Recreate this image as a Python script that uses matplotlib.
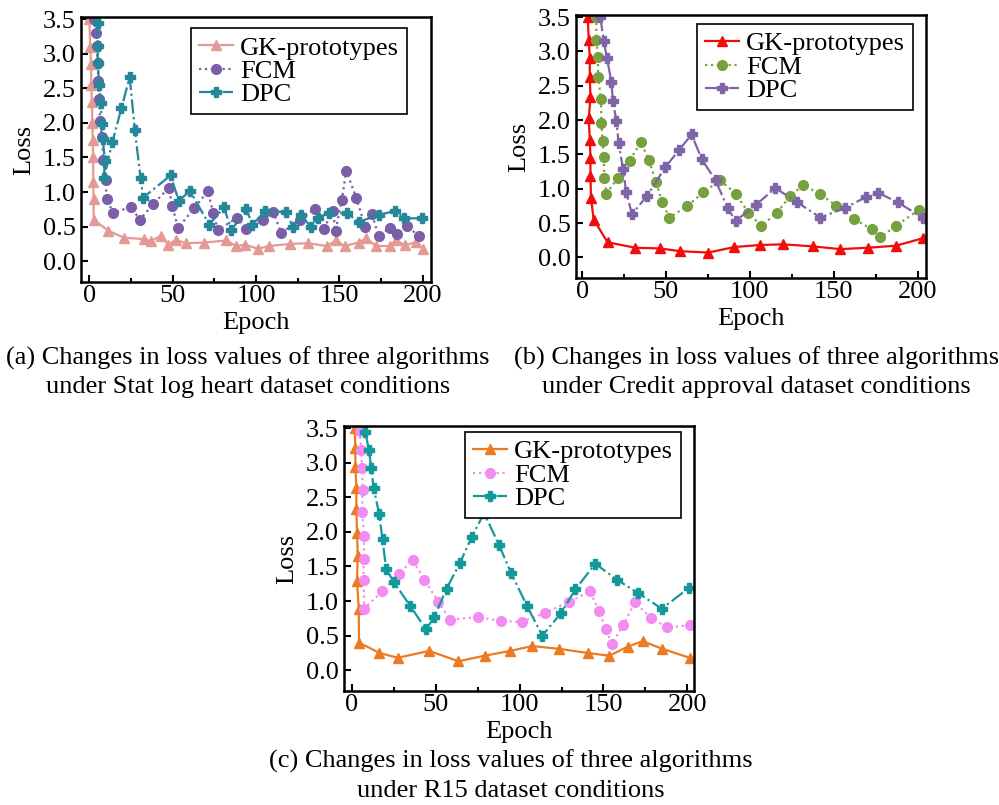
import matplotlib
matplotlib.use("Agg")
import matplotlib.pyplot as plt
from matplotlib.ticker import MultipleLocator

plt.rcParams['font.family'] = ['Liberation Serif', 'DejaVu Serif']
plt.rcParams['font.size'] = 19

# (a) Stat log heart
a_gk_x = [0, 0.5, 1, 1.2, 1.5, 1.8, 2, 2.2, 2.4, 2.5, 2.6, 11.4, 20.8, 32.7, 37, 43, 47.3, 52, 57.9, 68.7, 82.2, 88,
          93.6, 101, 107.8, 120.2, 131.1, 142.5, 148, 153.1, 161.5, 166, 172, 180.6, 184, 189.6, 196, 200]
a_gk_y = [3.5, 3.1, 2.85, 2.55, 2.3, 2.0, 1.75, 1.5, 1.15, 0.9, 0.6, 0.44, 0.34, 0.32, 0.29, 0.37, 0.24, 0.31, 0.26,
          0.27, 0.30, 0.22, 0.24, 0.18, 0.22, 0.25, 0.26, 0.22, 0.30, 0.22, 0.27, 0.33, 0.22, 0.22, 0.30, 0.23, 0.28, 0.18]
a_fcm_x = [3, 3.8, 4.4, 5, 5.4, 6, 6.4, 7.4, 8.4, 9.8, 10.4, 14.4, 24.7, 30.3, 38.3, 47.7, 49.7, 53.3, 62.9, 71.1, 74.3,
           77.2, 88.6, 94.2, 104.2, 110.2, 115.2, 126.1, 135.5, 140.5, 146.1, 147.7, 151.5, 154.1, 160.1, 165.5, 169.5,
           173.5, 180.4, 184.6, 190.4, 198]
a_fcm_y = [3.5, 3.3, 3.11, 2.87, 2.6, 2.34, 2.02, 1.8, 1.47, 1.18, 0.9, 0.69, 0.79, 0.60, 0.83, 1.06, 0.80, 0.48, 0.77,
           1.01, 0.70, 0.45, 0.63, 0.46, 0.60, 0.71, 0.41, 0.60, 0.76, 0.46, 0.73, 0.44, 0.89, 1.31, 0.92, 0.49, 0.68,
           0.37, 0.48, 0.40, 0.51, 0.36]
a_dpc_x = [5, 5, 5, 6, 7, 7.4, 8, 9.4, 8.6, 13.8, 19.2, 24.2, 27.3, 30.7, 32.3, 48.7, 53.7, 60.3, 71.9, 80.8, 85.2,
           94.2, 97.8, 105.6, 118, 122, 127.1, 132.7, 137.1, 143.7, 154.5, 161.7, 173.7, 183.6, 189, 199.4]
a_dpc_y = [3.45, 3.11, 2.86, 2.54, 2.29, 1.99, 1.77, 1.45, 1.2, 1.72, 2.21, 2.66, 1.89, 1.21, 0.92, 1.24, 0.87, 1.02,
           0.53, 0.78, 0.45, 0.75, 0.53, 0.73, 0.71, 0.50, 0.67, 0.50, 0.63, 0.70, 0.69, 0.57, 0.67, 0.73, 0.62, 0.62]

# (b) Credit approval
b_gk_x = [3.4, 4, 4.6, 4.6, 5, 4, 4.6, 5, 5, 5.3, 6.9, 15.2, 31.7, 46.5, 58.4, 75.2, 90.7, 105.9, 119.8, 137.6, 153.9,
          170.3, 187.1, 203.3]
b_gk_y = [3.5, 3.16, 2.91, 2.63, 2.33, 2.03, 1.71, 1.45, 1.18, 0.87, 0.55, 0.22, 0.14, 0.13, 0.09, 0.07, 0.15, 0.18,
          0.19, 0.16, 0.12, 0.14, 0.17, 0.28]
b_fcm_x = [8.5, 8.5, 9.5, 9.5, 11.3, 11.5, 12.3, 12.9, 13.3, 14.5, 21.2, 28.3, 35.2, 39.6, 44.2, 47.5, 52.1, 62.8, 72.3,
           82.2, 91.7, 99, 106.9, 116.2, 123.8, 131.7, 141.6, 151.5, 162, 172.7, 177.6, 187.1, 200.6]
b_fcm_y = [3.5, 3.16, 2.92, 2.63, 2.31, 1.96, 1.70, 1.46, 1.16, 0.93, 1.15, 1.41, 1.68, 1.42, 1.10, 0.81, 0.58, 0.75,
           0.95, 1.12, 0.93, 0.65, 0.46, 0.65, 0.89, 1.05, 0.93, 0.75, 0.56, 0.41, 0.29, 0.46, 0.69]
b_dpc_x = [10.9, 12.9, 14.9, 17.4, 18.4, 20.4, 21.8, 24.4, 26.3, 29.7, 38.6, 49.5, 58, 65.3, 71.3, 79.6, 86.7, 91.5,
           103.4, 115.2, 128.3, 142, 156.8, 169.3, 176.6, 188.1, 203]
b_dpc_y = [3.5, 3.15, 2.9, 2.56, 2.28, 1.99, 1.66, 1.29, 0.95, 0.63, 0.89, 1.31, 1.57, 1.79, 1.43, 1.12, 0.72, 0.53,
           0.76, 1.01, 0.80, 0.58, 0.72, 0.88, 0.94, 0.80, 0.58]

# (c) R15
c_gk_x = [1.6, 2, 2, 2.6, 2.6, 3, 3.4, 3, 4, 4.2, 16.4, 27.3, 46.1, 63.4, 79.2, 94.5, 107.5, 123.4, 140.6, 153.5,
          164.4, 173.3, 185.1, 201.4]
c_gk_y = [3.5, 3.21, 2.94, 2.63, 2.33, 1.99, 1.65, 1.29, 0.89, 0.40, 0.25, 0.18, 0.28, 0.13, 0.21, 0.28, 0.35, 0.31,
          0.25, 0.21, 0.34, 0.42, 0.31, 0.18]
c_fcm_x = [4.6, 5.5, 6, 6.3, 6, 7.3, 6.9, 6.9, 7.3, 18, 27.9, 36.2, 43.2, 51.5, 58.4, 75.2, 89.1, 101.4, 115.4, 129.3,
           142.2, 147.1, 151.5, 154.9, 161.8, 168.7, 178.2, 187.7, 201.4]
c_fcm_y = [3.46, 3.19, 2.93, 2.6, 2.28, 1.94, 1.61, 1.30, 0.89, 1.14, 1.39, 1.59, 1.31, 0.99, 0.73, 0.77, 0.71, 0.70,
           0.83, 0.99, 1.14, 0.86, 0.60, 0.38, 0.65, 0.98, 0.76, 0.62, 0.65]
c_dpc_x = [7.9, 10.1, 11.5, 12.9, 16.2, 18.2, 20.4, 25.1, 34.7, 44.2, 49.1, 56.4, 64.4, 71.3, 78.8, 87.7, 95, 104.4,
           113.5, 124.8, 133.3, 145.1, 158, 170.3, 184.8, 201]
c_dpc_y = [3.45, 3.18, 2.93, 2.63, 2.26, 1.89, 1.46, 1.27, 0.93, 0.59, 0.77, 1.18, 1.55, 1.92, 2.27, 1.81, 1.40, 0.93,
           0.50, 0.83, 1.17, 1.54, 1.31, 1.12, 0.89, 1.19]

labels = ['GK-prototypes', 'FCM', 'DPC']
captions = ['(a) Changes in loss values of three algorithms\nunder Stat log heart dataset conditions',
            '(b) Changes in loss values of three algorithms\nunder Credit approval dataset conditions',
            '(c) Changes in loss values of three algorithms\nunder R15 dataset conditions']

panels = [
    dict(rect=[0.0811, 0.6497, 0.3504, 0.3292], xlim=(-5, 205),
         data=[(a_gk_x, a_gk_y), (a_fcm_x, a_fcm_y), (a_dpc_x, a_dpc_y)],
         colors=['#e39a95', '#7b5ea7', '#24879a'], leg=(0.314, 0.958)),
    dict(rect=[0.5766, 0.6547, 0.3504, 0.3267], xlim=(-3.6, 205),
         data=[(b_gk_x, b_gk_y), (b_fcm_x, b_fcm_y), (b_dpc_x, b_dpc_y)],
         colors=['#f20d0d', '#77a03e', '#7f64a8'], leg=(0.346, 0.966)),
    dict(rect=[0.3443, 0.1416, 0.3504, 0.3292], xlim=(-4.8, 204),
         data=[(c_gk_x, c_gk_y), (c_fcm_x, c_fcm_y), (c_dpc_x, c_dpc_y)],
         colors=['#ec7a22', '#f28cf0', '#14999a'], leg=(0.346, 0.977)),
]

fig = plt.figure(figsize=(9.99, 8.05), dpi=100)

for p in panels:
    ax = fig.add_axes(p['rect'])
    (gx, gy), (fx, fy), (dx, dy) = p['data']
    c = p['colors']
    ax.plot(gx, gy, '-', color=c[0], marker='^', ms=7, lw=1.6, label=labels[0])
    ax.plot(fx, fy, ':', color=c[1], marker='o', ms=7, lw=1.6, label=labels[1])
    ax.plot(dx, dy, '-.', color=c[2], marker='P', ms=7.5, lw=1.6, label=labels[2])
    ax.set_xlim(*p['xlim'])
    ax.set_ylim(-0.3, 3.53)
    ax.xaxis.set_major_locator(MultipleLocator(50))
    ax.xaxis.set_minor_locator(MultipleLocator(25))
    ax.set_yticks([0, 0.5, 1, 1.5, 2, 2.5, 3, 3.5])
    ax.set_yticklabels(['0.0', '0.5', '1.0', '1.5', '2.0', '2.5', '3.0', '3.5'])
    ax.tick_params(direction='in', which='both', width=1.5, labelsize=19)
    ax.tick_params(which='major', length=5, pad=4)
    ax.tick_params(which='minor', length=3)
    ax.tick_params(axis='x', pad=2)
    for s in ax.spines.values():
        s.set_linewidth(1.8)
    ax.set_xlabel('Epoch', fontsize=19, labelpad=4)
    ax.set_ylabel('Loss', fontsize=19, labelpad=5)
    leg = ax.legend(loc='upper left', bbox_to_anchor=p['leg'], fontsize=19, frameon=True, fancybox=False,
                    edgecolor='black', handlelength=1.3, borderpad=0.3, labelspacing=0.0, handletextpad=0.25,
                    borderaxespad=0, framealpha=1)
    leg.get_frame().set_linewidth(1.2)

fig.text(0.248, 0.538, captions[0], ha='center', va='center', fontsize=19, linespacing=1.35)
fig.text(0.757, 0.538, captions[1], ha='center', va='center', fontsize=19, linespacing=1.35)
fig.text(0.511, 0.036, captions[2], ha='center', va='center', fontsize=19, linespacing=1.4)

fig.savefig('out.png', dpi=100)
